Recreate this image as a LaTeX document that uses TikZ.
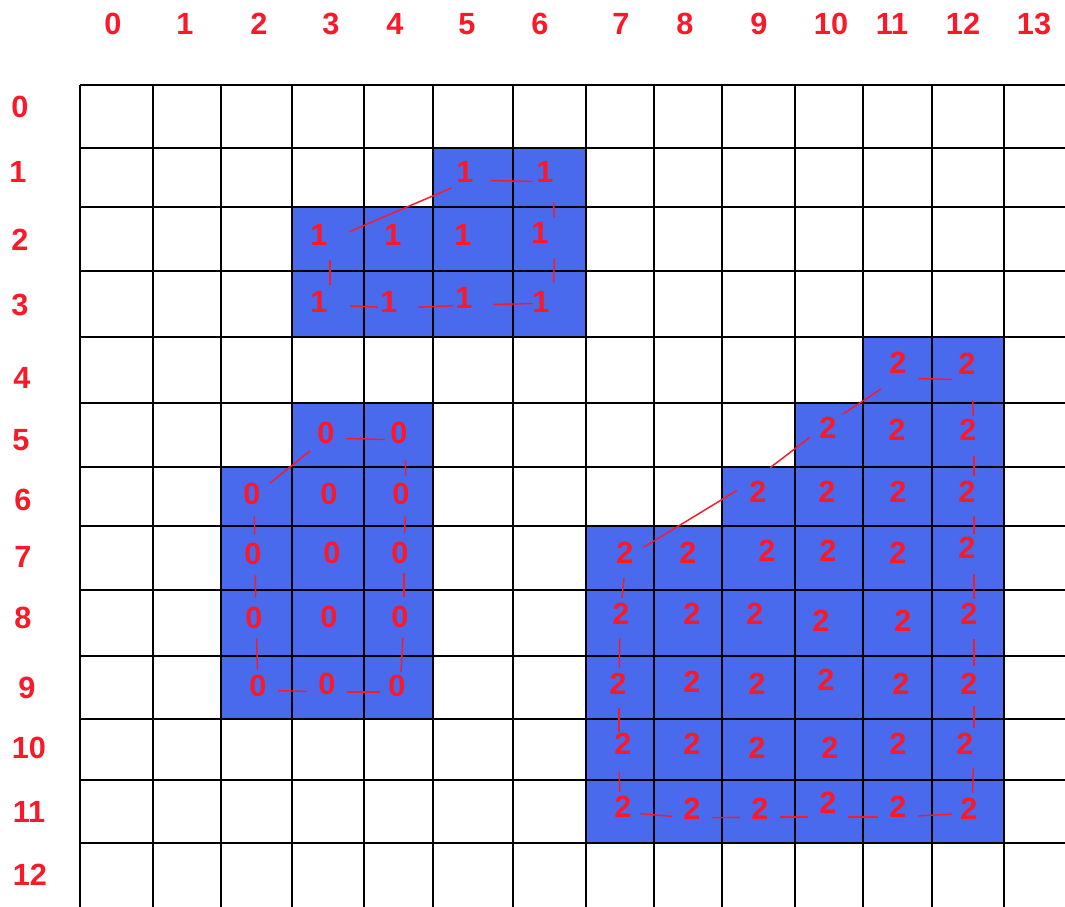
\documentclass[tikz,border=0pt]{standalone}
\usepackage{fontspec}
\setmainfont{Liberation Sans}
\definecolor{cellblue}{RGB}{74,106,238}
\definecolor{lblred}{RGB}{250,25,40}
\begin{document}
\begin{tikzpicture}[x=0.75pt,y=-0.75pt,
  gridline/.style={line width=1.5pt,black},
  hdr/.style={text=lblred,font=\bfseries\fontsize{23}{23}\selectfont,inner sep=0pt},
  val/.style={text=lblred,font=\bfseries\fontsize{23}{23}\selectfont,inner sep=0pt},
  tpoint/.style={circle,minimum size=30pt,inner sep=0pt},
  trace/.style={draw=lblred,line width=1.1pt},
  region/.style={fill=cellblue}]
\useasboundingbox (0,0) rectangle (1065,907);
\fill[white] (0,0) rectangle (1065,907);
% blue regions
\fill[region] (433,148) rectangle (586,207);
\fill[region] (292,207) rectangle (586,337);
\fill[region] (292,403) rectangle (433,467);
\fill[region] (221,467) rectangle (433,719);
\fill[region] (863,337) rectangle (1004,403);
\fill[region] (795,403) rectangle (1004,467);
\fill[region] (722,467) rectangle (1004,526);
\fill[region] (586,526) rectangle (1004,843);
% grid
\foreach \x in {80,153,221,292,364,433,513,586,654,722,795,863,932,1004}
  \draw[gridline] (\x,85) -- (\x,907);
\foreach \y in {85,148,207,271,337,403,467,526,590,656,719,780,843}
  \draw[gridline] (80,\y) -- (1065,\y);
% column headers
\foreach \i/\x in {0/113,1/185,2/259,3/331,4/395,5/467,6/540,7/621,8/685,9/759,10/831,11/892,12/963,13/1034}
  \node[hdr] (col\i) at (\x,24) {\i};
% row headers
\foreach \i/\x/\y in {0/20/107,1/18/172,2/20/240,3/20/305,4/22/378,5/21/440,6/23/500,7/23/557,8/23/618,9/27/688,10/29/748,11/29/812,12/30/875}
  \node[hdr] (row\i) at (\x,\y) {\i};
% cell values
\foreach \ro/\co/\x/\y/\v in {
  1/5/465/172/1, 1/6/545/172/1,
  2/3/319/235/1, 2/4/393/235/1, 2/5/463/235/1, 2/6/540/233/1,
  3/3/319/302/1, 3/4/389/302/1, 3/5/464/298/1, 3/6/541/302/1,
  5/3/326/433/0, 5/4/399/433/0,
  6/2/252/494/0, 6/3/329/494/0, 6/4/401/494/0,
  7/2/253/554/0, 7/3/332/553/0, 7/4/400/553/0,
  8/2/254/618/0, 8/3/329/617/0, 8/4/400/617/0,
  9/2/258/686/0, 9/3/327/684/0, 9/4/397/686/0,
  4/11/898/363/2, 4/12/967/364/2,
  5/10/828/428/2, 5/11/897/430/2, 5/12/968/430/2,
  6/9/758/492/2, 6/10/827/492/2, 6/11/898/492/2, 6/12/967/492/2,
  7/7/625/553/2, 7/8/688/553/2, 7/9/767/551/2, 7/10/828/551/2, 7/11/898/553/2, 7/12/967/548/2,
  8/7/621/614/2, 8/8/692/614/2, 8/9/755/614/2, 8/10/821/621/2, 8/11/903/621/2, 8/12/969/614/2,
  9/7/618/684/2, 9/8/692/682/2, 9/9/757/684/2, 9/10/826/680/2, 9/11/901/684/2, 9/12/969/684/2,
  10/7/623/744/2, 10/8/692/744/2, 10/9/757/748/2, 10/10/830/748/2, 10/11/898/744/2, 10/12/965/744/2,
  11/7/623/807/2, 11/8/692/809/2, 11/9/760/809/2, 11/10/828/803/2, 11/11/898/807/2, 11/12/969/809/2}
  \node[val] (r\ro c\co) at (\x,\y) {\v};
% contour trace points
\foreach \n/\x/\y in {
  t1c5/470/180, t1c6/553/182, t2c6/555/238, t3c6/553/303, t3c5/473/305, t3c4/398/308, t3c3/330/305, t2c3/330/240,
  t5c3/326/438, t5c4/405/440, t6c4/406/496, t7c4/404/553, t8c4/404/617, t9c4/400/692, t9c3/327/692, t9c2/258/690,
  t8c2/256/618, t7c2/255/555, t6c2/254/496,
  t4c11/898/378, t4c12/972/380, t5c12/974/436, t6c12/974/496, t7c12/974/554, t8c12/974/619, t9c12/974/686,
  t10c12/974/748, t11c12/972/813, t11c11/898/817, t11c10/828/817, t11c9/760/817, t11c8/692/818, t11c7/620/812,
  t10c7/619/752, t9c7/619/688, t8c7/620/618, t7c7/626/558, t6c9/754/480, t5c10/826/425}
  \node[tpoint] (\n) at (\x,\y) {};
% contour traces
\foreach \a/\b in {
  t1c5/t1c6, t1c6/t2c6, t2c6/t3c6, t3c6/t3c5, t3c5/t3c4, t3c4/t3c3, t3c3/t2c3, t2c3/t1c5,
  t5c3/t5c4, t5c4/t6c4, t6c4/t7c4, t7c4/t8c4, t8c4/t9c4, t9c4/t9c3, t9c3/t9c2, t9c2/t8c2,
  t8c2/t7c2, t7c2/t6c2, t6c2/t5c3,
  t4c11/t4c12, t4c12/t5c12, t5c12/t6c12, t6c12/t7c12, t7c12/t8c12, t8c12/t9c12, t9c12/t10c12,
  t10c12/t11c12, t11c12/t11c11, t11c11/t11c10, t11c10/t11c9, t11c9/t11c8, t11c8/t11c7,
  t11c7/t10c7, t10c7/t9c7, t9c7/t8c7, t8c7/t7c7, t7c7/t6c9, t6c9/t5c10, t5c10/t4c11}
  \draw[trace] (\a) -- (\b);
\end{tikzpicture}
\end{document}
